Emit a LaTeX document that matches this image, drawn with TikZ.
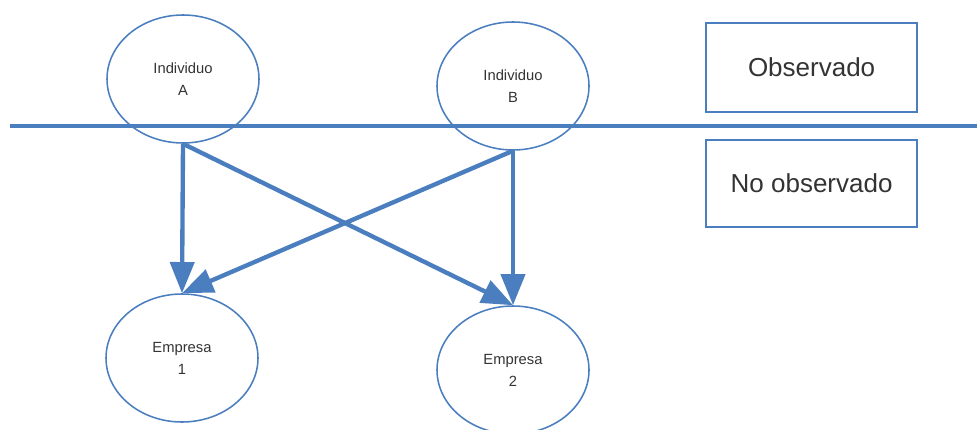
\documentclass[tikz,border=0pt]{standalone}
\usepackage{fontspec}
\setmainfont{Liberation Sans}
\usepackage{xcolor}
\usepackage{tikz}
\usetikzlibrary{shapes.geometric,arrows.meta,positioning}

\definecolor{linkblue}{RGB}{74,126,190}

\begin{document}
\begin{tikzpicture}[
  every node/.style={font=\fontsize{10.5}{15.6}\selectfont, text=black!80},
  agent/.style={ellipse, draw=linkblue, line width=1.1pt, minimum width=3.8cm, minimum height=3.2cm, align=center},
  label/.style={rectangle, draw=linkblue, line width=1.1pt, minimum width=5.27cm, align=center, font=\fontsize{18.5}{22}\selectfont},
  arr/.style={-{Triangle[length=7.8mm, width=6mm]}, line width=3.1pt, linkblue},
]

\useasboundingbox (0, 0) rectangle (24.425, 10.725);

\node[agent] (indA) at (4.575, 8.75) {Individuo\\A};
\node[agent] (indB) at (12.825, 8.575) {Individuo\\B};
\node[agent] (emp1) at (4.55, 1.775) {Empresa\\1};
\node[agent] (emp2) at (12.825, 1.475) {Empresa\\2};

\node[label, minimum height=2.225cm] (obs) at (20.29, 9.04) {Observado};
\node[label, minimum height=2.175cm] (noobs) at (20.29, 6.14) {No observado};

% separation line
\coordinate (sepL) at (0.25, 7.575);
\coordinate (sepR) at (24.425, 7.575);
\draw[line width=3.1pt, linkblue] (sepL) -- (sepR);

\draw[arr] (indA.south) -- (emp1.north);
\draw[arr] (indA.south) -- (emp2.north);
\draw[arr] (indB.south) -- (emp2.north);
\draw[arr] (indB.south) -- (emp1.north);

\end{tikzpicture}
\end{document}
